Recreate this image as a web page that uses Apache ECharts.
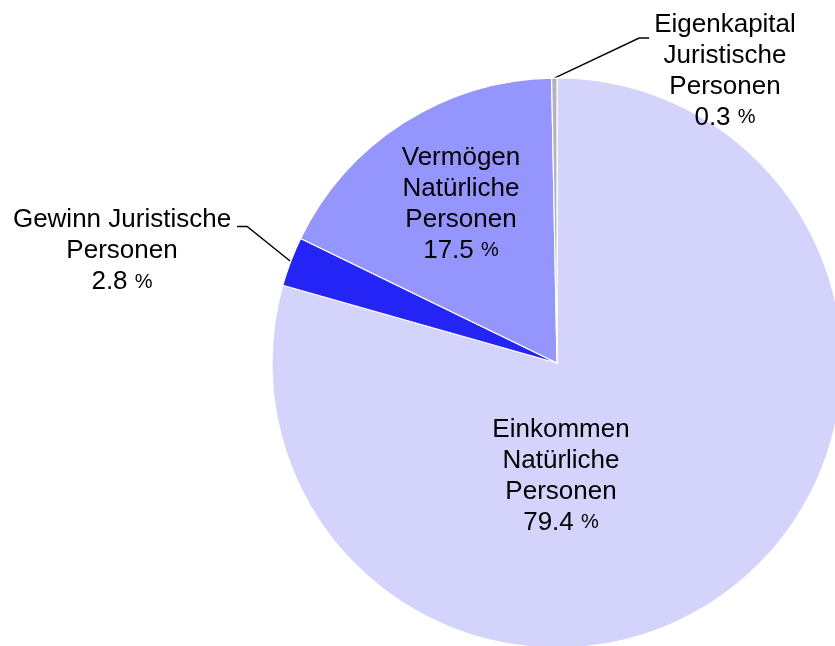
<!DOCTYPE html>
<html>
<head>
<meta charset="utf-8">
<script src="https://cdn.jsdelivr.net/npm/echarts@6/dist/echarts.min.js"></script>
<style>
  html, body { margin: 0; padding: 0; background: #fff; }
  #chart { width: 835px; height: 646px; }
</style>
</head>
<body>
<div id="chart"></div>
<script>
// Steueraufkommen nach Steuerart (Anteile in %)
const categories = [
  'Einkommen\nNatürliche\nPersonen',
  'Gewinn Juristische\nPersonen',
  'Vermögen\nNatürliche\nPersonen',
  'Eigenkapital\nJuristische\nPersonen'
]
const values = [79.4, 2.8, 17.5, 0.3]

const sliceColors = ['#d3d3fc', '#2424f7', '#9595fe', '#b4b4b4']
const outsideLabel = [false, true, false, true]

// pie geometry and where each label block sits (center of text)
const cx = 557, cy = 363, R = 285
const labelCenter = [[561, 476], [122, 251], [461, 204], [725, 71]]
// leader line: y offset of horizontal run from label first line, side of label
const leader = { 1: { dy: 4, side: 'right' }, 3: { dy: 11, side: 'left' } }

const total = values.reduce((a, b) => a + b, 0)
function midAngle (i) {
  let before = 0
  for (let k = 0; k < i; k++) before += values[k]
  return ((before + values[i] / 2) / total) * Math.PI * 2
}

const chart = echarts.init(document.getElementById('chart'))

chart.setOption({
  animation: false,
  series: [
    {
      type: 'pie',
      center: [cx, cy],
      radius: R,
      startAngle: 90,
      clockwise: true,
      avoidLabelOverlap: false,
      itemStyle: { borderColor: '#fff', borderWidth: 1.2 },
      emphasis: { disabled: true },
      label: {
        color: '#000',
        fontFamily: 'Liberation Sans, Arial, sans-serif',
        formatter: p => p.name.split('\n').map(s => '{t|' + s + '}').join('\n') +
          '\n{t|' + p.value.toFixed(1) + ' }{p|%}',
        rich: {
          t: { fontSize: 26, lineHeight: 31, color: '#000', fontFamily: 'Liberation Sans, Arial, sans-serif' },
          p: { fontSize: 20, lineHeight: 31, color: '#000', fontFamily: 'Liberation Sans, Arial, sans-serif' }
        }
      },
      labelLine: { show: false, lineStyle: { color: '#000', width: 1.4 } },
      labelLayout: params => {
        const i = params.dataIndex
        const [x, y] = labelCenter[i]
        const out = { x, y, align: 'center', verticalAlign: 'middle' }
        const l = leader[i]
        if (l) {
          const w = params.labelRect.width
          const h = params.labelRect.height
          const a = midAngle(i)
          const start = [cx + R * Math.sin(a), cy - R * Math.cos(a)]
          const ly = y - h / 2 + 15.5 + l.dy
          let end, elbow
          if (l.side === 'right') {
            end = x + w / 2 + 6
            elbow = end + 10
          } else {
            end = x - w / 2 - 5
            elbow = end - 10
          }
          out.labelLinePoints = [start, [elbow, ly], [end, ly]]
        }
        return out
      },
      data: categories.map((name, i) => ({
        name,
        value: values[i],
        itemStyle: { color: sliceColors[i] },
        label: { position: outsideLabel[i] ? 'outside' : 'inside' },
        labelLine: { show: outsideLabel[i] }
      }))
    }
  ]
})
</script>
</body>
</html>
